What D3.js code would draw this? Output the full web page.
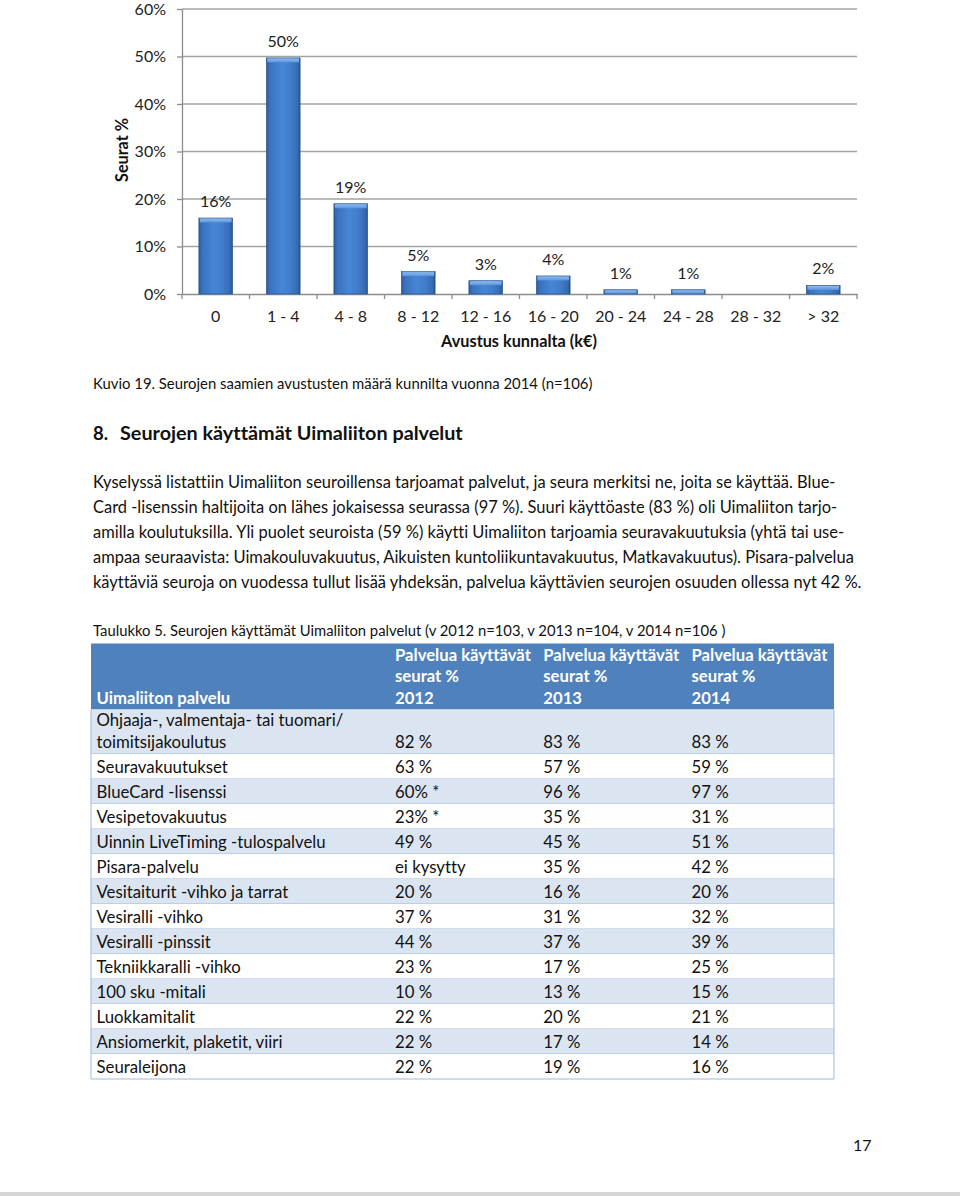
<!DOCTYPE html>
<html><head><meta charset="utf-8">
<script src="https://cdn.jsdelivr.net/npm/d3@7"></script>
<style>
body{margin:0;background:#fff}
svg{display:block}
text{font-family:Lato,"Open Sans","Noto Sans",sans-serif;font-variant-ligatures:none}
</style>
</head><body>
<svg id="c" width="960" height="1196"></svg>
<script>
// ---------- DATA ----------
const categories = ["0","1 - 4","4 - 8","8 - 12","12 - 16","16 - 20","20 - 24","24 - 28","28 - 32","> 32"];
const shares = [0.16,0.497,0.19,0.047,0.028,0.038,0.009,0.009,0,0.018];
const yTicks = [0,0.1,0.2,0.3,0.4,0.5,0.6];
const yTitle = "Seurat %";
const xTitle = "Avustus kunnalta (k€)";
const caption = "Kuvio 19. Seurojen saamien avustusten määrä kunnilta vuonna 2014 (n=106)";
const headingNum = "8.";
const headingText = "Seurojen käyttämät Uimaliiton palvelut";
const paragraphLines = [
  "Kyselyssä listattiin Uimaliiton seuroillensa tarjoamat palvelut, ja seura merkitsi ne, joita se käyttää. Blue-",
  "Card -lisenssin haltijoita on lähes jokaisessa seurassa (97 %). Suuri käyttöaste (83 %) oli Uimaliiton tarjo-",
  "amilla koulutuksilla. Yli puolet seuroista (59 %) käytti Uimaliiton tarjoamia seuravakuutuksia (yhtä tai use-",
  "ampaa seuraavista: Uimakouluvakuutus, Aikuisten kuntoliikuntavakuutus, Matkavakuutus). Pisara-palvelua",
  "käyttäviä seuroja on vuodessa tullut lisää yhdeksän, palvelua käyttävien seurojen osuuden ollessa nyt 42 %."
];
const tableCaption = "Taulukko 5. Seurojen käyttämät Uimaliiton palvelut (v 2012 n=103, v 2013 n=104, v 2014 n=106 )";
const tableHeaders = [
  ["Uimaliiton palvelu"],
  ["Palvelua käyttävät","seurat %","2012"],
  ["Palvelua käyttävät","seurat %","2013"],
  ["Palvelua käyttävät","seurat %","2014"]
];
const services = [
  ["Ohjaaja-, valmentaja- tai tuomari/","toimitsijakoulutus"],
  ["Seuravakuutukset"],
  ["BlueCard -lisenssi"],
  ["Vesipetovakuutus"],
  ["Uinnin LiveTiming -tulospalvelu"],
  ["Pisara-palvelu"],
  ["Vesitaiturit -vihko ja tarrat"],
  ["Vesiralli -vihko"],
  ["Vesiralli -pinssit"],
  ["Tekniikkaralli -vihko"],
  ["100 sku -mitali"],
  ["Luokkamitalit"],
  ["Ansiomerkit, plaketit, viiri"],
  ["Seuraleijona"]
];
const v2012 = ["82 %","63 %","60% *","23% *","49 %","ei kysytty","20 %","37 %","44 %","23 %","10 %","22 %","22 %","22 %"];
const v2013 = ["83 %","57 %","96 %","35 %","45 %","35 %","16 %","31 %","37 %","17 %","13 %","20 %","17 %","19 %"];
const v2014 = ["83 %","59 %","97 %","31 %","51 %","42 %","20 %","32 %","39 %","25 %","15 %","21 %","14 %","16 %"];
const pageNumber = "17";

// ---------- HELPERS ----------
function fit(sel, base, target){
  sel.attr("font-size", base);
  const w = sel.node().getComputedTextLength();
  const fs = base * target / w;
  sel.attr("font-size", fs);
  return fs;
}
function measure(str, fs, weight){
  const t = svg.append("text").attr("font-size",fs).attr("font-weight",weight||"normal").text(str);
  const w = t.node().getComputedTextLength(); t.remove(); return w;
}

const svg = d3.select("#c");
svg.append("rect").attr("width",960).attr("height",1196).attr("fill","#fff");

// ---------- CHART ----------
const defs = svg.append("defs");
const g1 = defs.append("linearGradient").attr("id","barGrad").attr("x1","0").attr("x2","1").attr("y1","0").attr("y2","0");
[["0%","#2b5a98"],["10%","#3a72bd"],["45%","#4786d6"],["70%","#417dcc"],["92%","#366bb2"],["100%","#28538d"]]
  .forEach(([o,c])=>g1.append("stop").attr("offset",o).attr("stop-color",c));
const g2 = defs.append("linearGradient").attr("id","bevel").attr("x1","0").attr("x2","0").attr("y1","0").attr("y2","1");
[["0%","#8fbcf0"],["100%","#5b93da"]].forEach(([o,c])=>g2.append("stop").attr("offset",o).attr("stop-color",c));

const x = d3.scaleBand().domain(categories).range([182,857]).paddingInner(0.5).paddingOuter(0.25);
const y = d3.scaleLinear().domain([0,0.6]).range([294,9]);
const data = categories.map((c,i)=>({c, v:shares[i]}));
const chartFs = 16;

svg.append("g").selectAll("line").data(yTicks.filter(d=>d>0)).join("line")
  .attr("x1",182).attr("x2",857).attr("y1",d=>y(d)).attr("y2",d=>y(d))
  .attr("stroke","#a3a3a3").attr("stroke-width",1.3);

const ya = svg.append("g").attr("transform","translate(182,0)")
  .call(d3.axisLeft(y).tickValues(yTicks).tickFormat(d3.format(".0%")).tickSize(5).tickSizeOuter(0).tickPadding(11));
ya.select(".domain").attr("stroke","#8c8c8c").attr("stroke-width",1.3);
ya.selectAll(".tick line").attr("stroke","#8c8c8c").attr("stroke-width",1.3);
ya.selectAll("text").attr("font-size",chartFs).attr("fill","#222").attr("font-family","Lato");

const xa = svg.append("g").attr("transform","translate(0,294)")
  .call(d3.axisBottom(x).tickSize(0).tickSizeOuter(0).tickPadding(16.5));
xa.select(".domain").attr("stroke","#8c8c8c").attr("stroke-width",1.3);
xa.selectAll("text").attr("font-size",chartFs).attr("fill","#222").attr("font-family","Lato");
const step = x.step(), gap = step - x.bandwidth();
const bounds = categories.map(c=>x(c)-gap/2).concat([x(categories[categories.length-1]) - gap/2 + step]);
svg.append("g").selectAll("line").data(bounds).join("line")
  .attr("x1",d=>d).attr("x2",d=>d).attr("y1",294).attr("y2",299)
  .attr("stroke","#8c8c8c").attr("stroke-width",1.3);

const bars = svg.append("g").selectAll("g").data(data.filter(d=>d.v>0)).join("g");
bars.append("rect").attr("x",d=>x(d.c)).attr("y",d=>y(d.v)).attr("width",x.bandwidth())
  .attr("height",d=>294-y(d.v)).attr("fill","url(#barGrad)").attr("stroke","#24508a").attr("stroke-width",0.6);
bars.append("rect").attr("x",d=>x(d.c)+1).attr("y",d=>y(d.v)+0.5).attr("width",x.bandwidth()-2)
  .attr("height",d=>Math.min(4,294-y(d.v)-1)).attr("fill","url(#bevel)");
bars.append("text").attr("x",d=>x(d.c)+x.bandwidth()/2).attr("y",d=>y(d.v)-11)
  .attr("text-anchor","middle").attr("font-size",chartFs).attr("fill","#222")
  .text(d=>d3.format(".0%")(d.v));

const xt = svg.append("text").attr("x",519).attr("y",346.5).attr("text-anchor","middle")
  .attr("font-weight","bold").attr("fill","#111").text(xTitle);
fit(xt, 16, 156);
const yt = svg.append("text").attr("transform","translate(127.5,150) rotate(-90)").attr("text-anchor","middle")
  .attr("font-weight","bold").attr("fill","#111").text(yTitle);
fit(yt, 16, 64);

// ---------- TEXT ----------
const cap = svg.append("text").attr("x",93).attr("y",389).attr("fill","#111").text(caption);
fit(cap, 15, 500);
svg.append("text").attr("x",93).attr("y",440).attr("font-size",18.5).attr("font-weight","bold").attr("fill","#111").text(headingNum);
const hd = svg.append("text").attr("x",120).attr("y",440).attr("font-weight","bold").attr("fill","#111").text(headingText);
fit(hd, 18.5, 343);

const pl = svg.append("g").selectAll("text").data(paragraphLines).join("text")
  .attr("x",93).attr("y",(d,i)=>488+i*25).attr("fill","#111").attr("font-size",15).text(d=>d);
const lastW = pl.nodes()[4].getComputedTextLength();
const pfs = 15 * (862-93) / lastW;
pl.attr("font-size",pfs);

const tc = svg.append("text").attr("x",93).attr("y",636).attr("fill","#111").text(tableCaption);
fit(tc, 15, 633);

// ---------- TABLE ----------
const headFs = 15 * 136 / measure(tableHeaders[1][0], 15, "bold");
const bodyFs = 15 * 247 / measure(services[0][0], 15, "normal");
const colX = [96.5, 395, 543.3, 691.5];
const tLeft = 91, tRight = 834, headTop = 643.5, headBottom = 709.5;
svg.append("rect").attr("x",tLeft).attr("y",headTop).attr("width",tRight-tLeft).attr("height",headBottom-headTop).attr("fill","#4f81bd");
const tg = svg.append("g");
tableHeaders.forEach((lines,ci)=>{
  lines.forEach((t,li)=>{
    const n = lines.length;
    tg.append("text").attr("x",colX[ci]).attr("y",704 - (n-1-li)*21.7)
      .attr("font-size",headFs).attr("font-weight","bold").attr("fill","#fff").text(t);
  });
});
let rowTop = headBottom;
const rows = services.map((s,i)=>{
  const h = s.length > 1 ? 44.5 : 25;
  const r = {s, a:v2012[i], b:v2013[i], c:v2014[i], top:rowTop, h, i};
  rowTop += h; return r;
});
const rg = svg.append("g").selectAll("g").data(rows).join("g");
rg.append("rect").attr("x",tLeft).attr("y",d=>d.top).attr("width",tRight-tLeft).attr("height",d=>d.h)
  .attr("fill",d=>d.i%2===0?"#dbe5f1":"#ffffff");
rg.append("line").attr("x1",tLeft).attr("x2",tRight).attr("y1",d=>d.top+d.h).attr("y2",d=>d.top+d.h)
  .attr("stroke","#9fb9dc").attr("stroke-width",1);
rg.each(function(d){
  const g = d3.select(this);
  const base = d.top + d.h - 6.5;
  d.s.forEach((t,li)=>{
    g.append("text").attr("x",colX[0]).attr("y",base-(d.s.length-1-li)*22).attr("font-size",bodyFs).attr("fill","#111").text(t);
  });
  [d.a,d.b,d.c].forEach((t,k)=>{
    g.append("text").attr("x",colX[k+1]).attr("y",base).attr("font-size",bodyFs).attr("fill","#111").text(t);
  });
});
svg.append("line").attr("x1",tLeft).attr("x2",tLeft).attr("y1",headBottom).attr("y2",rowTop).attr("stroke","#9fb9dc");
svg.append("line").attr("x1",tRight).attr("x2",tRight).attr("y1",headBottom).attr("y2",rowTop).attr("stroke","#9fb9dc");

// ---------- FOOTER ----------
svg.append("text").attr("x",853).attr("y",1151).attr("font-size",16).attr("fill","#111").text(pageNumber);
svg.append("rect").attr("x",0).attr("y",1192).attr("width",960).attr("height",4).attr("fill","#d6d6d6");
</script>
</body></html>
